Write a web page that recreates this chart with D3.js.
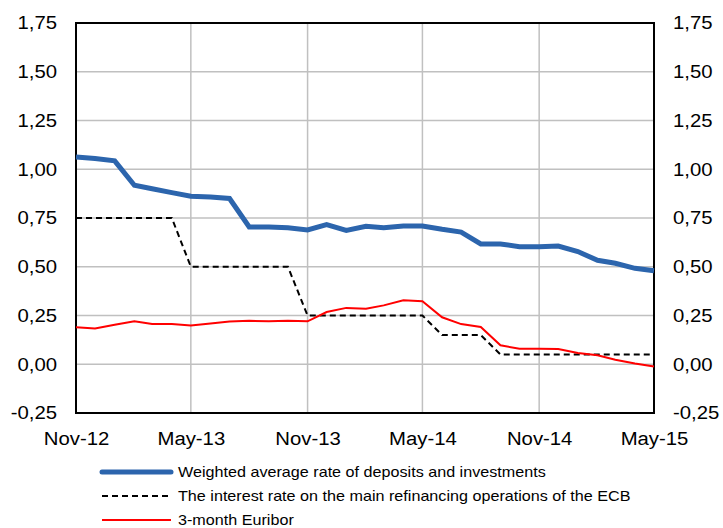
<!DOCTYPE html>
<html>
<head>
<meta charset="utf-8">
<script src="https://cdn.jsdelivr.net/npm/d3@7"></script>
<style>
  body { margin: 0; background: #fff; }
  text { font-family: Arial, "Liberation Sans", sans-serif; fill: #000; }
</style>
</head>
<body>
<script>
// Données (mensuel, Nov-12 -> May-15)
const months = d3.range(31).map(i => new Date(2012, 10 + i, 1))

const weightedRate = [1.063, 1.055, 1.043, 0.918, 0.90, 0.88, 0.862, 0.858, 0.85, 0.704, 0.704,
    0.70, 0.689, 0.716, 0.686, 0.708, 0.70, 0.709, 0.709, 0.692, 0.678, 0.617, 0.617, 0.603,
    0.603, 0.606, 0.578, 0.533, 0.518, 0.492, 0.479]

const ecbRate = [0.75, 0.75, 0.75, 0.75, 0.75, 0.75, 0.50, 0.50, 0.50, 0.50, 0.50, 0.50,
    0.25, 0.25, 0.25, 0.25, 0.25, 0.25, 0.25, 0.15, 0.15, 0.15, 0.05, 0.05, 0.05, 0.05,
    0.05, 0.05, 0.05, 0.05, 0.05]

const euribor = [0.19, 0.183, 0.203, 0.221, 0.206, 0.207, 0.199, 0.209, 0.219, 0.223, 0.22,
    0.223, 0.22, 0.268, 0.289, 0.285, 0.302, 0.328, 0.323, 0.241, 0.206, 0.191, 0.097, 0.08,
    0.08, 0.078, 0.058, 0.046, 0.023, 0.004, -0.012]

const yTicks = [-0.25, 0, 0.25, 0.5, 0.75, 1, 1.25, 1.5, 1.75]
const xTickMonths = [0, 6, 12, 18, 24, 30]

const legendLabels = [
    'Weighted average rate of deposits and investments',
    'The interest rate on the main refinancing operations of the ECB',
    '3-month Euribor'
]

const width = 723, height = 528
const margin = { top: 23, right: 69, bottom: 115, left: 76 }
const innerW = width - margin.left - margin.right
const innerH = height - margin.top - margin.bottom

// le texte de l'image d'origine est un peu étiré horizontalement
const stretch = 1.13

const svg = d3.select('body').append('svg')
    .attr('width', width)
    .attr('height', height)

const g = svg.append('g')
    .attr('transform', `translate(${margin.left}, ${margin.top})`)

const x = d3.scaleTime()
    .domain([months[0], months[months.length - 1]])
    .range([0, innerW])

const y = d3.scaleLinear()
    .domain([-0.25, 1.75])
    .range([innerH, 0])

const fmt = v => d3.format('.2f')(v).replace('.', ',').replace('−', '-')
const fmtMonth = d3.timeFormat('%b-%y')

// Grille
g.append('g')
    .selectAll('line')
    .data(yTicks)
    .join('line')
    .attr('x1', 0).attr('x2', innerW)
    .attr('y1', d => y(d)).attr('y2', d => y(d))
    .attr('stroke', '#c0c0c0')
    .attr('stroke-width', 1.5)

g.append('g')
    .selectAll('line')
    .data(xTickMonths.slice(1, -1))
    .join('line')
    .attr('x1', d => x(months[d])).attr('x2', d => x(months[d]))
    .attr('y1', 0).attr('y2', innerH)
    .attr('stroke', '#c0c0c0')
    .attr('stroke-width', 1.5)

// Axes
const axisLeft = g.append('g')
    .call(d3.axisLeft(y).tickValues(yTicks).tickFormat(fmt).tickSize(0).tickPadding(19))
axisLeft.select('.domain').remove()

const axisRight = g.append('g')
    .attr('transform', `translate(${innerW}, 0)`)
    .call(d3.axisRight(y).tickValues(yTicks).tickFormat(fmt).tickSize(0).tickPadding(19))
axisRight.select('.domain').remove()

const axisBottom = g.append('g')
    .attr('transform', `translate(0, ${innerH})`)
    .call(d3.axisBottom(x).tickValues(xTickMonths.map(i => months[i])).tickFormat(fmtMonth).tickSize(0).tickPadding(19))
axisBottom.select('.domain').remove()

svg.selectAll('.tick text')
    .style('font-size', '18px')
    .style('font-family', 'Arial, "Liberation Sans", sans-serif')
    .attr('x', function () { return (+d3.select(this).attr('x') || 0) / stretch })
    .attr('transform', `scale(${stretch}, 1)`)

// Cadre
g.append('rect')
    .attr('width', innerW)
    .attr('height', innerH)
    .attr('fill', 'none')
    .attr('stroke', '#000')
    .attr('stroke-width', 2)

// Lignes
const line = d3.line()
    .x((d, i) => x(months[i]))
    .y(d => y(d))

g.append('path')
    .datum(ecbRate)
    .attr('d', line)
    .attr('fill', 'none')
    .attr('stroke', '#000')
    .attr('stroke-width', 2)
    .attr('stroke-dasharray', '6,4')

g.append('path')
    .datum(euribor)
    .attr('d', line)
    .attr('fill', 'none')
    .attr('stroke', '#ff0000')
    .attr('stroke-width', 2)

g.append('path')
    .datum(weightedRate)
    .attr('d', line)
    .attr('fill', 'none')
    .attr('stroke', '#2c65ad')
    .attr('stroke-width', 5)

// Légende
const legendStyles = [
    { color: '#2c65ad', w: 5, dash: null },
    { color: '#000', w: 2, dash: '6,4' },
    { color: '#ff0000', w: 2, dash: null }
]

const legend = svg.append('g')
    .selectAll('g')
    .data(legendLabels)
    .join('g')
    .attr('transform', (d, i) => `translate(101, ${472 + i * 24})`)

legend.append('line')
    .attr('x1', 1).attr('x2', 70)
    .attr('stroke', (d, i) => legendStyles[i].color)
    .attr('stroke-width', (d, i) => legendStyles[i].w)
    .attr('stroke-dasharray', (d, i) => legendStyles[i].dash)
    .attr('stroke-linecap', (d, i) => i === 0 ? 'round' : 'butt')

legend.append('text')
    .attr('x', 77 / stretch)
    .attr('dy', '0.35em')
    .attr('transform', `scale(${stretch}, 1)`)
    .style('font-size', '14.3px')
    .text(d => d)
</script>
</body>
</html>
